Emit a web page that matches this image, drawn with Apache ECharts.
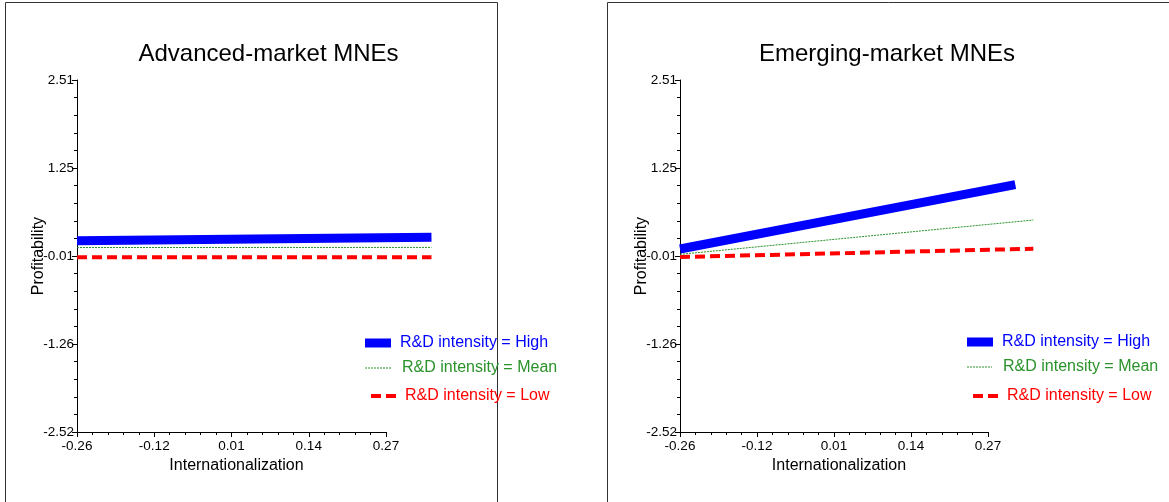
<!DOCTYPE html>
<html><head><meta charset="utf-8">
<script src="https://cdn.jsdelivr.net/npm/echarts@6/dist/echarts.min.js"></script>
<style>html,body{margin:0;padding:0;background:#fff}#c{width:1169px;height:502px}</style>
</head><body><div id="c"></div>
<script>
const panelTitles = ['Advanced-market MNEs', 'Emerging-market MNEs'];
const seriesNames = ['R&D intensity = High', 'R&D intensity = Mean', 'R&D intensity = Low'];
const xName = 'Internationalization';
const yName = 'Profitability';
const xTickValues = [-0.26, -0.1275, 0.005, 0.1375, 0.27];
const xTickLabels = ['-0.26', '-0.12', '0.01', '0.14', '0.27'];
const yTickValues = [-2.52, -1.2625, -0.005, 1.2525, 2.51];
const yTickLabels = ['-2.52', '-1.26', '-0.01', '1.25', '2.51'];
const advancedHigh = [[-0.26, 0.214], [0.348, 0.264]];
const advancedMean = [[-0.26, 0.116], [0.348, 0.118]];
const advancedLow  = [[-0.26, -0.024], [0.348, -0.024]];
const emergingHigh = [[-0.26, 0.095], [0.317, 1.014]];
const emergingMean = [[-0.26, 0.019], [0.348, 0.509]];
const emergingLow  = [[-0.26, -0.019], [0.348, 0.099]];

const FONT = '"Liberation Sans", Arial, Helvetica, sans-serif';
const BLUE = '#0000ff', GREEN = '#2a922a', RED = '#ff0000';

function minorOf(vals) {
  const out = [];
  for (let i = 0; i < vals.length - 1; i++) {
    const step = (vals[i + 1] - vals[i]) / 5;
    for (let k = 1; k < 5; k++) out.push(vals[i] + step * k);
  }
  return out;
}
function labelFor(vals, labels) {
  return function (v) {
    let best = 0;
    for (let i = 1; i < vals.length; i++) if (Math.abs(vals[i] - v) < Math.abs(vals[best] - v)) best = i;
    return labels[best];
  };
}
const xMinor = minorOf(xTickValues);
const yMinor = minorOf(yTickValues);
const xMin = xTickValues[0], xMax = xTickValues[xTickValues.length - 1];
const yMin = yTickValues[0], yMax = yTickValues[yTickValues.length - 1];
const dataXMax = 0.36; // the fitted lines run past the last labelled tick

const axisGrids = [
  { left: 77, top: 80, width: 309, height: 352 },
  { left: 680, top: 80, width: 308, height: 352 }
];
// data grids: same origin and scale, wider so lines can run past the axis end
const dataGrids = axisGrids.map(g => ({
  left: g.left, top: g.top, height: g.height,
  width: g.width * (dataXMax - xMin) / (xMax - xMin)
}));

const xAxes = [], yAxes = [];
axisGrids.forEach((g, gi) => {
  xAxes.push({
    type: 'value', gridIndex: gi, position: 'bottom', min: xMin, max: xMax,
    name: xName, nameLocation: 'middle', nameGap: 26, nameMoveOverlap: false,
    nameTextStyle: { fontFamily: FONT, fontSize: 16, color: '#000', padding: [0, 0, 0, 10] },
    axisLine: { show: true, onZero: false, lineStyle: { color: '#000', width: 1 } },
    axisTick: { show: true, customValues: xTickValues, length: 5, lineStyle: { color: '#000' } },
    axisLabel: { show: true, customValues: xTickValues, formatter: labelFor(xTickValues, xTickLabels), margin: 7, fontFamily: FONT, fontSize: 13.5, color: '#000' },
    splitLine: { show: false }
  });
  xAxes.push({
    type: 'value', gridIndex: gi, position: 'bottom', min: xMin, max: xMax,
    axisLine: { show: false, onZero: false },
    axisTick: { show: true, customValues: xMinor, length: 3, lineStyle: { color: '#000' } },
    axisLabel: { show: false }, splitLine: { show: false }
  });
  yAxes.push({
    type: 'value', gridIndex: gi, position: 'left', min: yMin, max: yMax,
    name: yName, nameLocation: 'middle', nameGap: 30, nameMoveOverlap: false,
    nameTextStyle: { fontFamily: FONT, fontSize: 16, color: '#000' },
    axisLine: { show: true, onZero: false, lineStyle: { color: '#000', width: 1 } },
    axisTick: { show: true, customValues: yTickValues, length: 5, lineStyle: { color: '#000' } },
    axisLabel: { show: true, customValues: yTickValues, formatter: labelFor(yTickValues, yTickLabels), margin: 3, fontFamily: FONT, fontSize: 13.5, color: '#000' },
    splitLine: { show: false }
  });
  yAxes.push({
    type: 'value', gridIndex: gi, position: 'left', min: yMin, max: yMax,
    axisLine: { show: false, onZero: false },
    axisTick: { show: true, customValues: yMinor, length: 3, lineStyle: { color: '#000' } },
    axisLabel: { show: false }, splitLine: { show: false }
  });
});
dataGrids.forEach((g, gi) => {
  xAxes.push({ type: 'value', gridIndex: 2 + gi, min: xMin, max: dataXMax, show: false });
  yAxes.push({ type: 'value', gridIndex: 2 + gi, min: yMin, max: yMax, show: false });
});

const styles = [
  { color: BLUE, width: 9, type: 'solid' },
  { color: GREEN, width: 1, type: [2, 1] },
  { color: RED, width: 4, type: [10, 5] }
];
const panelData = [[advancedHigh, advancedMean, advancedLow], [emergingHigh, emergingMean, emergingLow]];
const series = [];
panelData.forEach((sets, gi) => {
  sets.forEach((d, si) => {
    series.push({
      type: 'line', name: seriesNames[si], xAxisIndex: 4 + gi, yAxisIndex: 4 + gi,
      data: d, showSymbol: false, symbol: 'none', silent: true,
      lineStyle: { color: styles[si].color, width: styles[si].width, type: styles[si].type, cap: 'butt' },
      itemStyle: { color: styles[si].color },
      z: 3 - si
    });
  });
});

// legend placement: [iconLeft, iconCenterY, iconWidth, textGap]
const legendPos = [
  [[365, 343, 26, 9], [365, 368, 26, 11], [371, 396, 25, 9]],
  [[967, 342, 26, 9], [967, 367, 25, 11], [973, 396, 25, 9]]
];
const legends = [];
legendPos.forEach((rows) => {
  rows.forEach((p, si) => {
    legends.push({
      data: [seriesNames[si]], left: p[0] - styles[si].width / 2, top: p[1] - 8, padding: 0,
      itemWidth: p[2], itemHeight: 16, selectedMode: false,
      lineStyle: { width: styles[si].width, type: styles[si].type, color: styles[si].color, cap: 'butt' },
      itemStyle: { opacity: 0 },
      textStyle: { fontFamily: FONT, fontSize: 16, color: styles[si].color, padding: [0, 0, 0, Math.max(0, p[3] - 5)] }
    });
  });
});

const chart = echarts.init(document.getElementById('c'), null, { renderer: 'canvas' });
chart.setOption({
  backgroundColor: '#fff',
  animation: false,
  title: [
    { text: panelTitles[0], left: 263.5, top: 37, textAlign: 'center', textStyle: { fontFamily: FONT, fontSize: 24, fontWeight: 'normal', color: '#000' } },
    { text: panelTitles[1], left: 882, top: 37, textAlign: 'center', textStyle: { fontFamily: FONT, fontSize: 24, fontWeight: 'normal', color: '#000' } }
  ],
  graphic: [
    { type: 'rect', shape: { x: 5.5, y: 2.5, width: 492, height: 600 }, style: { fill: 'none', stroke: '#333', lineWidth: 1 }, silent: true },
    { type: 'rect', shape: { x: 607.5, y: 2.5, width: 700, height: 600 }, style: { fill: 'none', stroke: '#333', lineWidth: 1 }, silent: true }
  ],
  legend: legends,
  grid: axisGrids.concat(dataGrids),
  xAxis: xAxes,
  yAxis: yAxes,
  series: series
});
</script>
</body></html>
